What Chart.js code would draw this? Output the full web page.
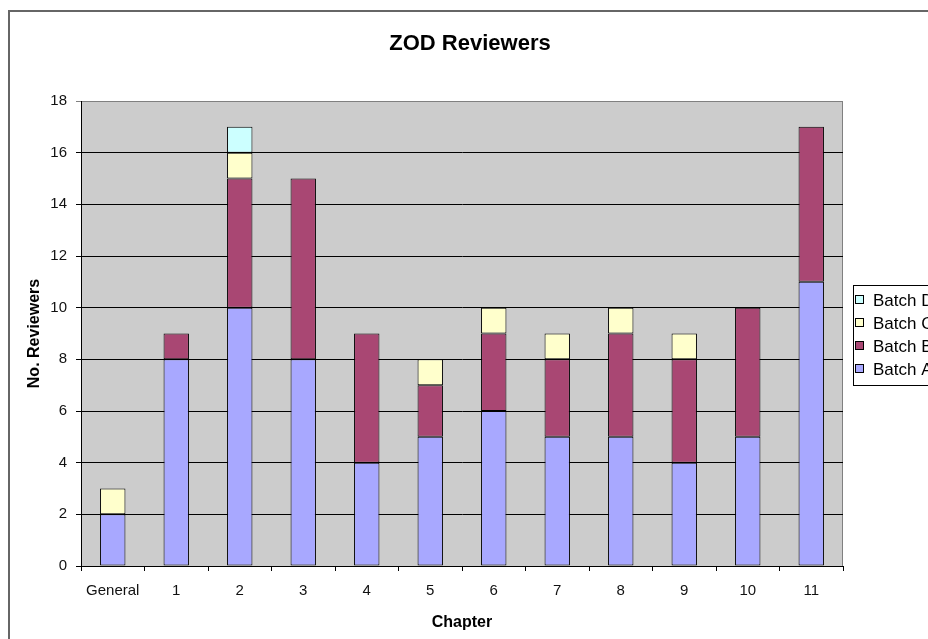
<!DOCTYPE html>
<html>
<head>
<meta charset="utf-8">
<title>ZOD Reviewers</title>
<script src="https://cdn.jsdelivr.net/npm/chart.js@4/dist/chart.umd.min.js"></script>
<style>
  html, body { margin: 0; padding: 0; background: #fff; overflow: hidden; }
  #wrap { position: absolute; left: 0; top: 0; width: 1010px; height: 639px; }
</style>
</head>
<body>
<div id="wrap"><canvas id="zodChart"></canvas></div>
<script>
// Dati
const chartTitle = 'ZOD Reviewers';
const chapters = ['General', '1', '2', '3', '4', '5', '6', '7', '8', '9', '10', '11'];
const batchA = [2, 8, 10, 8, 4, 5, 6, 5, 5, 4, 5, 11];
const batchB = [0, 1, 5, 7, 5, 2, 3, 3, 4, 4, 5, 6];
const batchC = [1, 0, 1, 0, 0, 1, 1, 1, 1, 1, 0, 0];
const batchD = [0, 0, 1, 0, 0, 0, 0, 0, 0, 0, 0, 0];
const yTicks = [0, 2, 4, 6, 8, 10, 12, 14, 16, 18];

const FONT = "'Liberation Sans', Arial, sans-serif";

// Sfondo, cornice, titolo e bordo grigio dell'area del grafico
const backgroundPlugin = {
  id: 'excelBackground',
  beforeDraw(chart) {
    const { ctx, chartArea: a } = chart;
    ctx.save();
    ctx.fillStyle = '#ffffff';
    ctx.fillRect(0, 0, chart.width, chart.height);
    // cornice esterna
    ctx.strokeStyle = '#666666';
    ctx.lineWidth = 2;
    ctx.beginPath();
    ctx.moveTo(9, chart.height);
    ctx.lineTo(9, 11);
    ctx.lineTo(chart.width, 11);
    ctx.stroke();
    // titolo (centrato come in Excel, non sulla tela intera)
    ctx.fillStyle = '#000000';
    ctx.font = 'bold 22px ' + FONT;
    ctx.textAlign = 'center';
    ctx.textBaseline = 'middle';
    ctx.fillText(chartTitle, 470, 44);
    // area del grafico
    ctx.fillStyle = '#cccccc';
    ctx.fillRect(a.left, a.top, a.right - a.left, a.bottom - a.top);
    ctx.strokeStyle = '#808080';
    ctx.lineWidth = 1;
    ctx.beginPath();
    ctx.moveTo(a.left, a.top + 0.5);
    ctx.lineTo(a.right - 0.5, a.top + 0.5);
    ctx.lineTo(a.right - 0.5, a.bottom);
    ctx.stroke();
    ctx.restore();
  }
};

// Legenda in stile Excel (ordine inverso, riquadro con bordo)
const legendPlugin = {
  id: 'excelLegend',
  afterDraw(chart) {
    const { ctx } = chart;
    const x = 853, y = 285, w = 140, h = 100;
    ctx.save();
    ctx.fillStyle = '#ffffff';
    ctx.fillRect(x, y, w, h);
    ctx.strokeStyle = '#000000';
    ctx.lineWidth = 1;
    ctx.strokeRect(x + 0.5, y + 0.5, w, h);
    ctx.font = '17px ' + FONT;
    ctx.textBaseline = 'middle';
    const sets = chart.data.datasets.slice().reverse();
    sets.forEach((ds, i) => {
      const cy = y + 15 + i * 23;
      ctx.fillStyle = ds.backgroundColor;
      ctx.fillRect(x + 2, cy - 5, 9, 9);
      ctx.strokeStyle = '#000000';
      ctx.strokeRect(x + 2.5, cy - 4.5, 8, 8);
      ctx.fillStyle = '#000000';
      ctx.fillText(ds.label, x + 20, cy + 1);
    });
    ctx.restore();
  }
};

function makeSet(label, data, color) {
  return {
    label: label,
    data: data,
    backgroundColor: color,
    borderColor: '#000000',
    borderWidth: 1,
    borderSkipped: false,
    categoryPercentage: 1.0,
    barPercentage: 0.4
  };
}

new Chart(document.getElementById('zodChart'), {
  type: 'bar',
  data: {
    labels: chapters,
    datasets: [
      makeSet('Batch A', batchA, '#a8a8ff'),
      makeSet('Batch B', batchB, '#a94773'),
      makeSet('Batch C', batchC, '#ffffcc'),
      makeSet('Batch D', batchD, '#ccffff')
    ]
  },
  options: {
    responsive: true,
    maintainAspectRatio: false,
    animation: false,
    layout: {
      padding: { left: 10, right: 167, top: 101, bottom: 0 }
    },
    plugins: {
      legend: { display: false },
      tooltip: { enabled: false },
      title: { display: false }
    },
    scales: {
      x: {
        stacked: true,
        afterFit: function(scale) { scale.height = 73; },
        grid: {
          offset: true,
          drawOnChartArea: false,
          drawTicks: true,
          tickLength: 5,
          color: '#000000'
        },
        border: { color: '#000000', width: 1 },
        ticks: {
          color: '#111111',
          padding: 11,
          maxRotation: 0,
          font: { family: FONT, size: 15 }
        },
        title: {
          display: true,
          text: 'Chapter',
          color: '#000000',
          font: { family: FONT, size: 16, weight: 'bold' },
          padding: { top: 0, bottom: 7 }
        }
      },
      y: {
        stacked: true,
        min: 0,
        max: 18,
        afterFit: function(scale) { scale.width = 71; },
        afterBuildTicks: function(scale) {
          scale.ticks = yTicks.map(v => ({ value: v }));
        },
        grid: {
          drawTicks: true,
          tickLength: 5,
          color: function(c) {
            return c.tick && c.tick.value === 18 ? '#808080' : '#000000';
          }
        },
        border: { color: '#000000', width: 1 },
        ticks: {
          color: '#111111',
          padding: 9,
          font: { family: FONT, size: 15 }
        },
        title: {
          display: true,
          text: 'No. Reviewers',
          color: '#000000',
          font: { family: FONT, size: 16, weight: 'bold' },
          padding: { top: 15, bottom: 0 }
        }
      }
    }
  },
  plugins: [backgroundPlugin, legendPlugin]
});
</script>
</body>
</html>
